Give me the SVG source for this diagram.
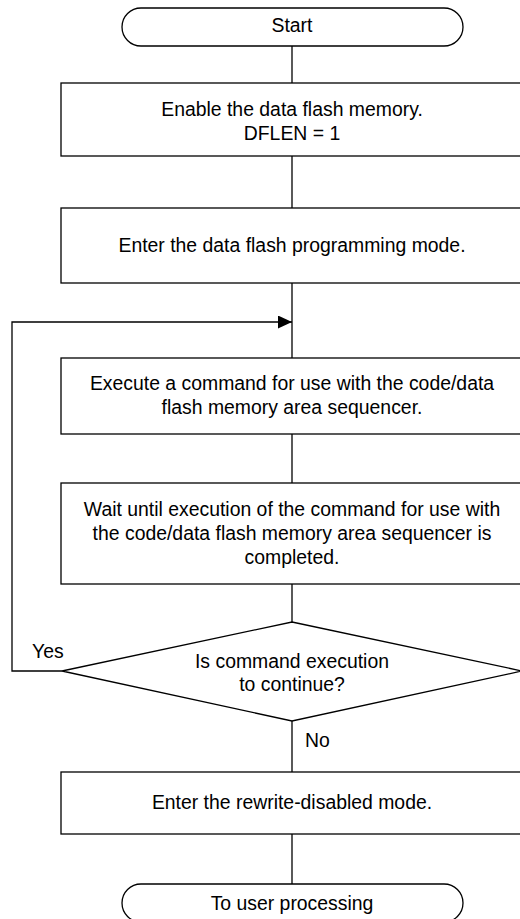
<svg xmlns="http://www.w3.org/2000/svg" width="520" height="919" viewBox="0 0 520 919">
<defs>
<style>
.s{fill:#fff;stroke:#000;stroke-width:1.3}
.c{fill:none;stroke:#000;stroke-width:1.3}
text{font-family:"Liberation Sans",Arial,sans-serif;font-size:19.4px;fill:#000}
.m{text-anchor:middle}
</style>
<marker id="ah" markerWidth="14" markerHeight="13" refX="14" refY="6.5" orient="auto" markerUnits="userSpaceOnUse">
<path d="M0,0 L14,6.5 L0,13 Z" fill="#000"/>
</marker>
</defs>
<rect width="520" height="919" fill="#fff"/>
<g id="connectors">
<path class="c" d="M292,46 V83"/>
<path class="c" d="M292,156 V208"/>
<path class="c" d="M292,283 V358"/>
<path class="c" d="M292,434 V483"/>
<path class="c" d="M292,584 V622"/>
<path class="c" d="M292,721 V772"/>
<path class="c" d="M292,834 V884"/>
<path class="c" d="M62,671 H12 V322 H292" marker-end="url(#ah)"/>
<text x="32" y="658">Yes</text>
<text x="305" y="747">No</text>
</g>
<g id="start">
<rect class="s" x="122" y="8" width="341" height="38" rx="19" ry="19"/>
<text class="m" x="292" y="32">Start</text>
</g>
<g id="enable">
<rect class="s" x="61" y="83" width="462" height="73"/>
<text class="m" x="292" y="116">Enable the data flash memory.</text>
<text class="m" x="292" y="140">DFLEN = 1</text>
</g>
<g id="enter-prog">
<rect class="s" x="61" y="208" width="462" height="75"/>
<text class="m" x="292" y="252">Enter the data flash programming mode.</text>
</g>
<g id="execute">
<rect class="s" x="61" y="358" width="462" height="76"/>
<text class="m" x="292" y="390">Execute a command for use with the code/data</text>
<text class="m" x="292" y="414">flash memory area sequencer.</text>
</g>
<g id="wait">
<rect class="s" x="61" y="483" width="462" height="101"/>
<text class="m" x="292" y="516">Wait until execution of the command for use with</text>
<text class="m" x="292" y="540">the code/data flash memory area sequencer is</text>
<text class="m" x="292" y="564">completed.</text>
</g>
<g id="decision">
<polygon class="s" points="292,622 522,671 292,721 62,671"/>
<text class="m" x="292" y="668">Is command execution</text>
<text class="m" x="292" y="691">to continue?</text>
</g>
<g id="rewrite-disabled">
<rect class="s" x="61" y="772" width="462" height="62"/>
<text class="m" x="292" y="809">Enter the rewrite-disabled mode.</text>
</g>
<g id="end">
<rect class="s" x="122" y="884" width="341" height="38" rx="19" ry="19"/>
<text class="m" x="292" y="910">To user processing</text>
</g>
</svg>
